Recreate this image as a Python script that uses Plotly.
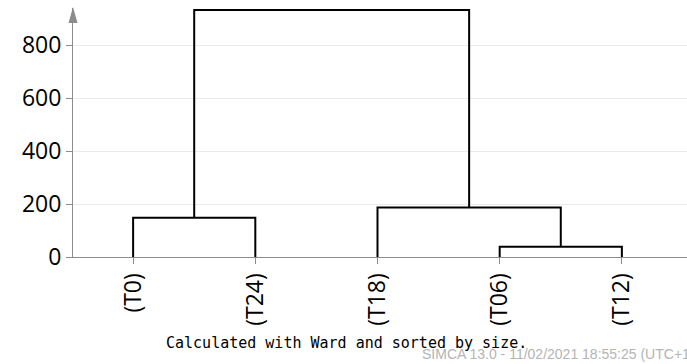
import plotly.graph_objects as go

# Leaves in dendrogram order and the merge steps (left member, right member, height);
# merge k creates node "Ck"
leaves = ["(T0)", "(T24)", "(T18)", "(T06)", "(T12)"]
merges = [
    ("(T06)", "(T12)", 39),
    ("(T0)", "(T24)", 148),
    ("(T18)", "C0", 187),
    ("C1", "C2", 932),
]
y_ticks = [0, 200, 400, 600, 800]

AXIS_GREY = "#8c8c8c"

# Position and height of each node: leaves sit at 1..n on the axis
pos = {name: i + 1 for i, name in enumerate(leaves)}
height = {name: 0 for name in leaves}

fig = go.Figure()
for k, (a, b, h) in enumerate(merges):
    xa, xb = pos[a], pos[b]
    fig.add_trace(go.Scatter(
        x=[xa, xa, xb, xb],
        y=[height[a], h, h, height[b]],
        mode="lines",
        line=dict(color="black", width=2),
        hoverinfo="skip",
        showlegend=False,
    ))
    node = f"C{k}"
    pos[node] = (xa + xb) / 2
    height[node] = h

x_left, x_right = 0.508, 5.533
y_top = 940

fig.update_layout(
    width=687, height=364,
    margin=dict(l=73, r=0, t=8, b=107),
    plot_bgcolor="white", paper_bgcolor="white",
    font=dict(family="Open Sans, Noto Sans, sans-serif", size=23, color="black"),
    xaxis=dict(
        range=[x_left, x_right],
        tickmode="array",
        tickvals=list(range(1, len(leaves) + 1)),
        ticktext=leaves,
        tickangle=-90,
        showgrid=False, zeroline=False,
        showline=True, linecolor=AXIS_GREY, linewidth=1,
        ticks="outside", ticklen=6, tickcolor=AXIS_GREY,
        tickfont=dict(size=23),
    ),
    yaxis=dict(
        range=[0, y_top],
        tickmode="array",
        tickvals=y_ticks,
        showgrid=True, gridcolor="#ebebeb", gridwidth=1,
        zeroline=False,
        showline=True, linecolor=AXIS_GREY, linewidth=1,
        ticks="outside", ticklen=6, tickcolor=AXIS_GREY,
        tickfont=dict(size=23),
    ),
    shapes=[
        # arrow head at the top of the y axis
        dict(
            type="path",
            xref="paper", yref="paper",
            xsizemode="pixel", ysizemode="pixel",
            xanchor=0, yanchor=1,
            path="M -4.5,-15 L 4.5,-15 L 0,1 Z",
            fillcolor=AXIS_GREY, line=dict(width=0),
        ),
    ],
    annotations=[
        dict(
            text="Calculated with Ward and sorted by size.",
            xref="paper", yref="paper",
            x=(346 - 73) / 614, y=-(343 - 257) / 249,
            xanchor="center", yanchor="middle",
            showarrow=False,
            font=dict(family="DejaVu Sans Mono, Liberation Mono, monospace", size=15, color="black"),
        ),
        dict(
            text="SIMCA 13.0 - 11/02/2021 18:55:25 (UTC+1)",
            xref="paper", yref="paper",
            x=(420 - 73) / 614, y=-(354 - 257) / 249,
            xanchor="left", yanchor="middle",
            showarrow=False,
            font=dict(family="Liberation Sans, Arial, sans-serif", size=14, color="#b4b4b4"),
        ),
    ],
)

fig.write_html("out.html")
